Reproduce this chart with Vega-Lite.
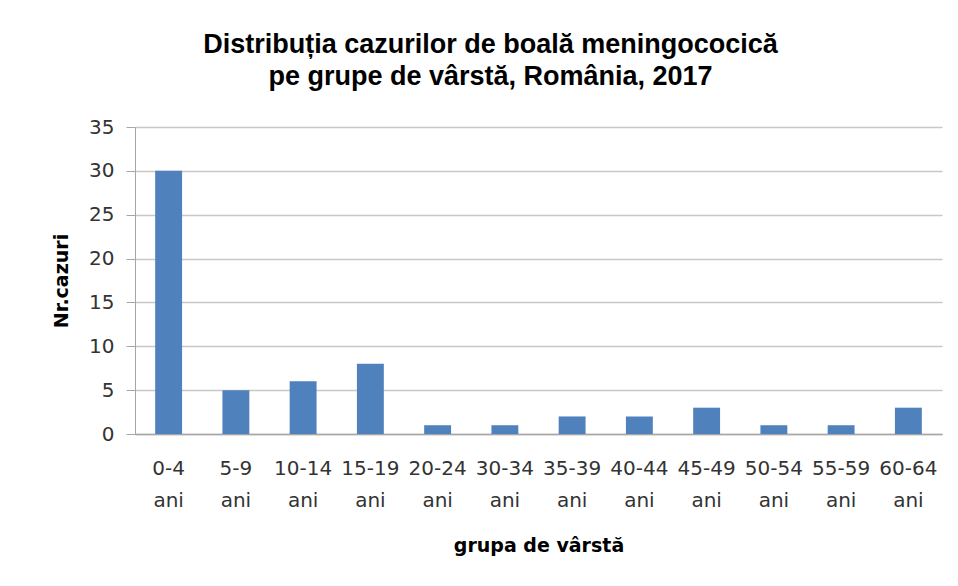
{
  "$schema": "https://vega.github.io/schema/vega-lite/v6.json",
  "width": 807,
  "height": 307,
  "autosize": "none",
  "padding": {"left": 135, "top": 127, "right": 16, "bottom": 152},
  "background": "white",
  "title": {
    "text": ["Distribuția cazurilor de boală meningococică", "pe grupe de vârstă, România, 2017"],
    "font": "Liberation Sans",
    "fontSize": 27,
    "fontWeight": "bold",
    "color": "#000000",
    "lineHeight": 32,
    "anchor": "middle",
    "dx": -48,
    "offset": 26
  },
  "data": {
    "values": [
      {"grupa": "0-4 ani", "cazuri": 30},
      {"grupa": "5-9 ani", "cazuri": 5},
      {"grupa": "10-14 ani", "cazuri": 6},
      {"grupa": "15-19 ani", "cazuri": 8},
      {"grupa": "20-24 ani", "cazuri": 1},
      {"grupa": "30-34 ani", "cazuri": 1},
      {"grupa": "35-39 ani", "cazuri": 2},
      {"grupa": "40-44 ani", "cazuri": 2},
      {"grupa": "45-49 ani", "cazuri": 3},
      {"grupa": "50-54 ani", "cazuri": 1},
      {"grupa": "55-59 ani", "cazuri": 1},
      {"grupa": "60-64 ani", "cazuri": 3}
    ]
  },
  "mark": {"type": "bar", "color": "#4F81BD"},
  "encoding": {
    "x": {
      "field": "grupa",
      "type": "nominal",
      "sort": null,
      "scale": {"paddingInner": 0.6, "paddingOuter": 0.3},
      "axis": {
        "title": "grupa de vârstă",
        "titleFont": "DejaVu Sans",
        "titleFontSize": 19,
        "titleFontWeight": "bold",
        "titleColor": "#000000",
        "titlePadding": 26,
        "labelAngle": 0,
        "labelExpr": "split(datum.label, ' ')",
        "labelFont": "DejaVu Sans",
        "labelFontSize": 20,
        "labelColor": "#333333",
        "labelLineHeight": 32,
        "labelPadding": 34,
        "labelBaseline": "middle",
        "ticks": false,
        "domainColor": "#a6a6a6",
        "domainWidth": 1.5,
        "grid": false
      }
    },
    "y": {
      "field": "cazuri",
      "type": "quantitative",
      "scale": {"domain": [0, 35]},
      "axis": {
        "title": "Nr.cazuri",
        "titleFont": "DejaVu Sans",
        "titleFontSize": 19,
        "titleFontWeight": "bold",
        "titleColor": "#000000",
        "titlePadding": 17,
        "values": [0, 5, 10, 15, 20, 25, 30, 35],
        "labelFont": "DejaVu Sans",
        "labelFontSize": 20,
        "labelColor": "#333333",
        "labelPadding": 12,
        "tickSize": 9,
        "tickColor": "#a6a6a6",
        "domainColor": "#a6a6a6",
        "gridColor": "#c8c8c8",
        "gridWidth": 1.5
      }
    }
  },
  "config": {"view": {"stroke": null}}
}
